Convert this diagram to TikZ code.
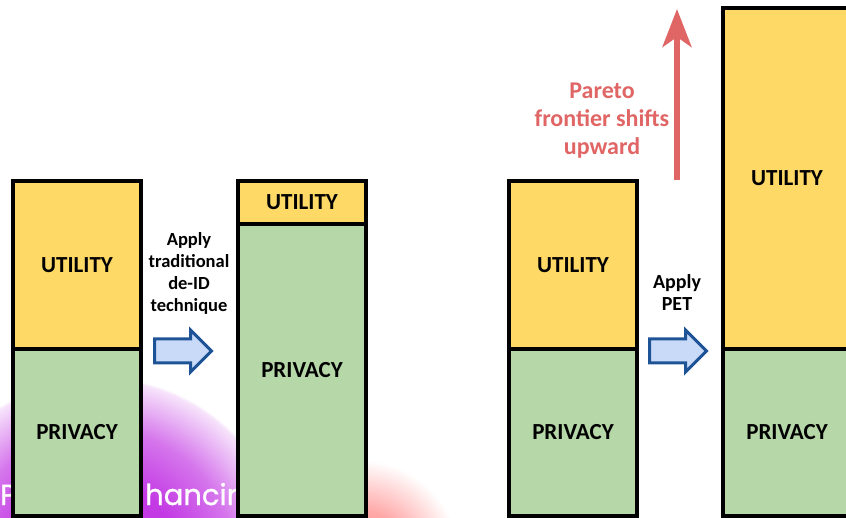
\documentclass[tikz,border=0pt]{standalone}
\usepackage{fontspec}
\setmainfont{Carlito}
\newfontfamily\slidefont{Poppins}[FakeBold=1]
\usetikzlibrary{shapes.arrows, positioning, arrows.meta}

\definecolor{utilyellow}{RGB}{255,217,102}
\definecolor{privgreen}{RGB}{182,215,168}
\definecolor{paretored}{RGB}{224,102,102}
\definecolor{petfill}{RGB}{201,218,248}
\definecolor{petline}{RGB}{30,84,150}
\definecolor{glowpurple}{RGB}{195,58,228}
\definecolor{glowpink}{RGB}{255,150,150}

% soft glows in the slide background (the circle edge sits at 25bp)
\pgfdeclareradialshading{purpleglow}{\pgfpoint{0bp}{0bp}}{color(0bp)=(glowpurple); color(11bp)=(glowpurple); color(18bp)=(glowpurple!70!white); color(24.6bp)=(glowpurple!14!white); color(25bp)=(white); color(50bp)=(white)}
\pgfdeclareradialshading{pinkglow}{\pgfpoint{0bp}{0bp}}{color(0bp)=(glowpink); color(12bp)=(glowpink!85!white); color(25bp)=(white); color(50bp)=(white)}

\begin{document}
\begin{tikzpicture}[x=1pt, y=-1pt,
    bar/.style={draw=black, line width=4pt, inner sep=0pt, outer sep=0pt, minimum width=128pt, font=\bfseries\fontsize{23}{28}\selectfont},
    utility/.style={bar, fill=utilyellow},
    privacy/.style={bar, fill=privgreen},
    petarrow/.style={single arrow, draw=petline, fill=petfill, line width=3pt, minimum height=57pt, single arrow head extend=9pt, inner sep=0pt, outer sep=0pt},
    steplabel/.style={align=center, font=\bfseries\fontsize{18.5}{22}\selectfont},
    slidetext/.style={text=white, inner sep=0pt, font=\slidefont\fontsize{29}{30}\selectfont}]
    \useasboundingbox (0,0) rectangle (846,518);
    \clip (0,0) rectangle (846,518);

    \shade[shading=purpleglow] (100,565) circle (188pt);
    \shade[shading=pinkglow] (360,560) circle (100pt);
    \node[slidetext, anchor=base west] (slideP) at (0,505) {P};
    \node[slidetext, anchor=base west] (slideword) at (145,505) {hancin};

    % before / after traditional de-ID
    \node[utility, anchor=north west, minimum height=168pt] (util1) at (13,181) {UTILITY};
    \node[privacy, anchor=north, minimum height=167pt] (priv1) at (util1.south) {PRIVACY};
    \node[utility, anchor=north west, minimum height=43pt] (util2) at (238,181) {UTILITY};
    \node[privacy, anchor=north, minimum height=292pt] (priv2) at (util2.south) {PRIVACY};

    % before / after PET
    \node[utility, anchor=north west, minimum height=168pt] (util3) at (509,181) {UTILITY};
    \node[privacy, anchor=north, minimum height=167pt] (priv3) at (util3.south) {PRIVACY};
    \node[utility, anchor=north west, minimum height=341pt] (util4) at (723,8) {UTILITY};
    \node[privacy, anchor=north, minimum height=167pt] (priv4) at (util4.south) {PRIVACY};

    \node[petarrow] (deid) at (177,351) {\rule{0pt}{21pt}};
    \node[petarrow] (pet) at (672,351) {\rule{0pt}{21pt}};
    \node[steplabel] (deidlabel) at (189,273) {Apply\\traditional\\de-ID\\technique};
    \node[steplabel, font=\bfseries\fontsize{20}{22}\selectfont] (petlabel) at (677,292) {Apply\\PET};

    \node[align=center, text=paretored, font=\bfseries\fontsize{24}{28}\selectfont] (shiftlabel) at (602,121) {Pareto\\frontier shifts\\upward};
    \coordinate (shiftbase) at (677,180);
    \coordinate (shifttop) at (677,9);
    \draw[paretored, line width=6pt, -{Stealth[length=38pt, width=29pt, inset=10pt]}] (shiftbase) -- (shifttop);
\end{tikzpicture}
\end{document}
